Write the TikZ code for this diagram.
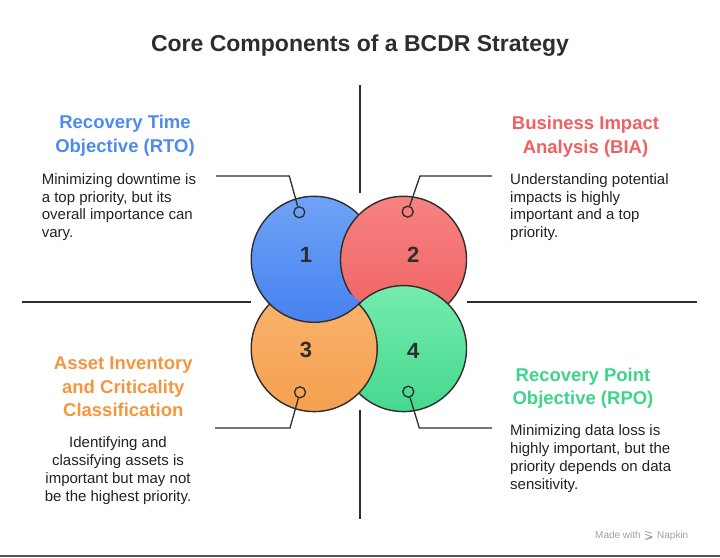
\documentclass[tikz,border=0pt]{standalone}
\usepackage{fontspec}
\setmainfont{Liberation Sans}
\usepackage{tikz}
\usetikzlibrary{positioning}
\definecolor{cEdge}{RGB}{45,45,45}
\definecolor{cText}{RGB}{34,34,34}
\definecolor{cBlueT}{RGB}{112,163,246}
\definecolor{cBlueB}{RGB}{70,130,240}
\definecolor{cRedT}{RGB}{247,130,130}
\definecolor{cRedB}{RGB}{240,98,98}
\definecolor{cOrgT}{RGB}{250,180,110}
\definecolor{cOrgB}{RGB}{245,160,80}
\definecolor{cGrnT}{RGB}{116,236,174}
\definecolor{cGrnB}{RGB}{70,216,142}
\definecolor{cBlue}{RGB}{77,139,240}
\definecolor{cRed}{RGB}{240,96,96}
\definecolor{cOrg}{RGB}{245,150,62}
\definecolor{cGrn}{RGB}{62,212,138}
\definecolor{cWm}{RGB}{160,160,160}
\definecolor{cRule}{RGB}{85,85,85}
\tikzset{
  disc/.style={
    circle, draw=cEdge, line width=1.4pt,
    minimum size=126pt, inner sep=0pt,
  },
  num/.style={font=\fontsize{22}{26}\selectfont\bfseries, text=cEdge},
  dot/.style={circle, draw=cEdge, line width=1.3pt, minimum size=11pt, inner sep=0pt},
  head/.style={align=center, anchor=base, font=\fontsize{18.5}{23.5}\selectfont\bfseries},
  body/.style={font=\fontsize{15}{17.8}\selectfont, text=cText},
  axis/.style={draw=cEdge, line width=1.5pt},
  lead/.style={draw=cEdge, line width=1.3pt},
  wm/.style={font=\fontsize{10}{12}\selectfont, text=cWm, inner sep=0pt},
}
\begin{document}
\begin{tikzpicture}[x=1pt, y=1pt]
\useasboundingbox (0,0) rectangle (720,557);

% ===== title =====
\node[anchor=base, text=cEdge, font=\fontsize{23}{27}\selectfont\bfseries] (title) at (360,505)
  {Core Components of a BCDR Strategy};

% ===== cross lines =====
\coordinate (vt1) at (360,472); \coordinate (vt2) at (360,364);
\coordinate (vb1) at (360,147); \coordinate (vb2) at (360,38);
\coordinate (hl1) at (22,255);  \coordinate (hl2) at (251,255);
\coordinate (hr1) at (467,255); \coordinate (hr2) at (697,255);
\draw[axis] (vt1) -- (vt2);
\draw[axis] (vb1) -- (vb2);
\draw[axis] (hl1) -- (hl2);
\draw[axis] (hr1) -- (hr2);

% ===== circles =====
\node[disc, top color=cBlueT, bottom color=cBlueB] (c1) at (314.2,297.7) {};
\node[disc, top color=cRedT, bottom color=cRedB] (c2) at (403.5,297.7) {};
\node[disc, top color=cGrnT, bottom color=cGrnB] (c4) at (403.5,208.4) {};
\node[disc, top color=cOrgT, bottom color=cOrgB] (c3) at (314.2,208.4) {};
% circle 1 lies over circle 3
\begin{scope}
  \clip (c3.center) circle[radius=65.5];
  \path[draw=cEdge, line width=1.4pt, top color=cBlueT, bottom color=cBlueB]
    (c1.center) circle[radius=63];
\end{scope}

\node[num] (n1) at (306,302) {1};
\node[num] (n2) at (413.3,302) {2};
\node[num] (n3) at (306,207) {3};
\node[num] (n4) at (413.3,206.3) {4};

% ===== leader lines =====
\node[dot] (d1) at (299.3,344.7) {};
\node[dot] (d2) at (407.7,345.3) {};
\node[dot] (d3) at (300,164.7) {};
\node[dot] (d4) at (408.3,165.3) {};
\coordinate (b1) at (289.3,381); \coordinate (e1) at (216,381);
\coordinate (b2) at (420,381);   \coordinate (e2) at (492,381);
\coordinate (b3) at (290,129);   \coordinate (e3) at (215,129);
\coordinate (b4) at (419.3,129); \coordinate (e4) at (492,129);
\draw[lead] (d1) -- (b1) -- (e1);
\draw[lead] (d2) -- (b2) -- (e2);
\draw[lead] (d3) -- (b3) -- (e3);
\draw[lead] (d4) -- (b4) -- (e4);

% ===== texts (base = last line) =====
\node[head, text=cBlue] (h1) at (125,404.7) {Recovery Time\\Objective (RTO)};
\node[body, align=left, anchor=base west] (t1) at (38.3,319.3)
  {Minimizing downtime is\\a top priority, but its\\overall importance can\\vary.};

\node[head, text=cRed] (h2) at (585.5,403.7) {Business Impact\\Analysis (BIA)};
\node[body, align=left, anchor=base west] (t2) at (506.7,319.3)
  {Understanding potential\\impacts is highly\\important and a top\\priority.};

\node[head, text=cOrg] (h3) at (123.3,140.3) {Asset Inventory\\and Criticality\\Classification};
\node[body, align=center, anchor=base] (t3) at (118,56)
  {Identifying and\\classifying assets is\\important but may not\\be the highest priority.};

\node[head, text=cGrn] (h4) at (583,152) {Recovery Point\\Objective (RPO)};
\node[body, align=left, anchor=base west] (t4) at (506.7,67.7)
  {Minimizing data loss is\\highly important, but the\\priority depends on data\\sensitivity.};

% ===== watermark =====
\node[wm, anchor=base west] (made) at (595,18.7) {Made with};
\draw[cWm, line width=0.8pt] ([xshift=4pt, yshift=7pt]made.base east) -- ++(7,-2)
  ([xshift=4pt, yshift=4pt]made.base east) -- ++(7,-2.5) -- ++(-7,-2.5)
  ([xshift=5pt, yshift=-1pt]made.base east) -- ++(6,1.5);
\node[wm, base right=16pt of made] (napkin) {Napkin};

% ===== bottom rule =====
\coordinate (rl) at (0,1); \coordinate (rr) at (720,1);
\draw[draw=cRule, line width=2pt] (rl) -- (rr);

\end{tikzpicture}
\end{document}
